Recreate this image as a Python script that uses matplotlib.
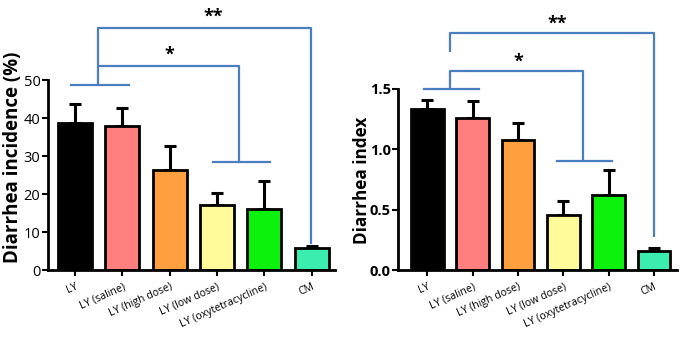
import matplotlib
matplotlib.use("Agg")
import matplotlib.pyplot as plt

# 数据
groups = ["LY", "LY (saline)", "LY (high dose)", "LY (low dose)",
          "LY (oxytetracycline)", "CM"]
colors = ["#000000", "#FF7F7F", "#FF9F3F", "#FFFA9A", "#0CF20C", "#3CEDB0"]

incidence = [38.6, 37.9, 26.3, 17.2, 16.2, 5.7]
incidence_err = [5.0, 4.7, 6.3, 3.0, 7.2, 0.6]

index_vals = [1.33, 1.255, 1.073, 0.452, 0.618, 0.155]
index_err = [0.08, 0.145, 0.143, 0.116, 0.212, 0.025]

blue = "#4A7EC1"

fig = plt.figure(figsize=(6.88, 3.41), dpi=100)
plt.rcParams['font.family'] = ['Open Sans', 'DejaVu Sans']


def draw_panel(ax, vals, errs, ylabel, yticks, ytick_labels, ylim, xlim,
               bold_ticks, ylabel_size, label_xy):
    x = list(range(len(groups)))
    ax.bar(x, vals, width=0.72, color=colors, edgecolor="black",
           linewidth=2, zorder=2)
    ax.errorbar(x, vals, yerr=[[0] * len(errs), errs], fmt="none",
                ecolor="black", elinewidth=2.2, capsize=4, capthick=2.2,
                zorder=1)
    ax.set_xlim(*xlim)
    ax.set_ylim(*ylim)
    for s in ["top", "right"]:
        ax.spines[s].set_visible(False)
    for s in ["left", "bottom"]:
        ax.spines[s].set_linewidth(2)
    ax.set_yticks(yticks)
    ax.set_yticklabels(ytick_labels, fontsize=10.5,
                       fontweight="bold" if bold_ticks else "normal")
    ax.set_xticks(x)
    ax.set_xticklabels(groups, rotation=24, ha="right", fontsize=7.6,
                       rotation_mode="anchor")
    ax.tick_params(axis="both", width=1.5, length=4, direction="out")
    ax.tick_params(axis="x", pad=4)
    ax.tick_params(axis="y", pad=1.5)
    ax.set_ylabel(ylabel, fontsize=ylabel_size, fontweight="bold")
    ax.yaxis.set_label_coords(*label_xy)


def bracket(ax, x0, x1, y, drop, **kw):
    ax.plot([x0, x0, x1, x1], [y - drop[0], y, y, y - drop[1]], color=blue,
            lw=1.6, clip_on=False, solid_capstyle="butt", **kw)


# 左图
ax1 = fig.add_axes([0.0698, 0.208, 0.417, 0.557])
draw_panel(ax1, incidence, incidence_err, "Diarrhea incidence (%)",
           [0, 10, 20, 30, 40, 50], ["0", "10", "20", "30", "40", "50"],
           (0, 50), (-0.57, 5.49), False, 13.5, (-0.087, 0.595))
# 下层括号
ax1.plot([-0.08, 1.15], [48.8, 48.8], color=blue, lw=1.6, clip_on=False)
ax1.plot([2.91, 4.12], [28.5, 28.5], color=blue, lw=1.6, clip_on=False)
bracket(ax1, 0.49, 3.47, 53.6, (4.8, 25.1))
ax1.text(2.0, 54.4, "*", ha="center", va="bottom", fontsize=13,
         fontweight="bold")
bracket(ax1, 0.49, 4.99, 63.7, (10.0, 56.9))
ax1.text(2.91, 64.4, "**", ha="center", va="bottom", fontsize=13,
         fontweight="bold")

# 右图
ax2 = fig.add_axes([0.579, 0.208, 0.405, 0.532])
draw_panel(ax2, index_vals, index_err, "Diarrhea index",
           [0.0, 0.5, 1.0, 1.5], ["0.0", "0.5", "1.0", "1.5"],
           (0, 1.5), (-0.64, 5.51), True, 12.3, (-0.098, 0.494))
ax2.plot([-0.07, 1.14], [1.5, 1.5], color=blue, lw=1.6, clip_on=False)
ax2.plot([2.87, 4.08], [0.9, 0.9], color=blue, lw=1.6, clip_on=False)
bracket(ax2, 0.51, 3.44, 1.646, (0.146, 0.746))
ax2.text(2.0, 1.645, "*", ha="center", va="bottom", fontsize=13,
         fontweight="bold")
bracket(ax2, 0.51, 5.0, 1.957, (0.157, 1.687))
ax2.text(2.86, 1.96, "**", ha="center", va="bottom", fontsize=13,
         fontweight="bold")

fig.savefig("out.png", dpi=100)
